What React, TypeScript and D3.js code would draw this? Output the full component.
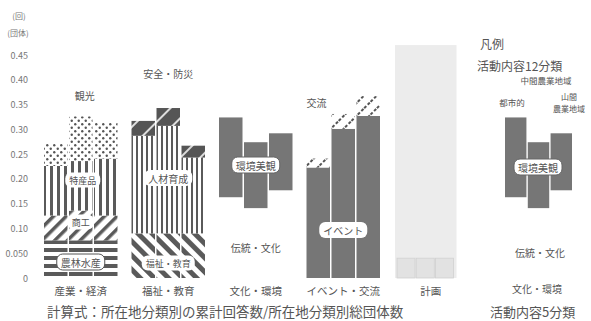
import React from "react";
import * as d3 from "d3";

// ---- data ----
const areas = ["都市的地域", "中間農業地域", "山間農業地域"];
const groups5 = ["産業・経済", "福祉・教育", "文化・環境", "イベント・交流", "計画"];
const cat12 = ["農林水産", "商工", "特産品", "観光", "福祉・教育", "人材育成", "安全・防災", "伝統・文化", "環境美観", "イベント", "交流", "計画"];
const cat12Group = [0, 0, 0, 0, 1, 1, 1, 2, 2, 3, 3, 4];
const urbanValues = [0.076, 0.05, 0.1, 0.046, 0.09, 0.197, 0.03, 0.163, 0.161, 0.223, 0.018, 0.04];
const intermediateValues = [0.076, 0.06, 0.1, 0.09, 0.09, 0.217, 0.036, 0.141, 0.133, 0.301, 0.03, 0.04];
const mountainValues = [0.076, 0.05, 0.115, 0.072, 0.09, 0.153, 0.024, 0.177, 0.115, 0.327, 0.04, 0.04];
const planShadeValue = 0.47;
const yTickValues = [0, 0.05, 0.1, 0.15, 0.2, 0.25, 0.3, 0.35, 0.4, 0.45];
const yTickLabels = ["0", "0.050", "0.10", "0.15", "0.20", "0.25", "0.30", "0.35", "0.40", "0.45"];

// ---- styles ----
const fills: Record<string, string> = {
  農林水産: "url(#pH)",
  商工: "url(#pDiagUp)",
  特産品: "url(#pV)",
  観光: "url(#pDots)",
  "福祉・教育": "url(#pDiagDown)",
  人材育成: "url(#pV2)",
  "安全・防災": "url(#pCap)",
  "伝統・文化": "#ffffff",
  環境美観: "#767676",
  イベント: "#767676",
  交流: "url(#pExch)",
  計画: "#e2e2e2",
};
const FONT = "'Noto Sans CJK JP', 'Noto Sans', sans-serif";
const TXT = "#555";

const W = 591;
const H = 321;

export default function App() {
  const y = d3.scaleLinear().domain([0, 0.45]).range([278, 55]);
  const xG = d3.scaleBand<string>().domain(groups5).range([37, 474.5]).paddingInner(0.16).paddingOuter(0.08);
  const xA = d3.scaleBand<string>().domain(areas).range([0, xG.bandwidth()]).paddingInner(0.06);
  const xPlan = d3.scaleBand<string>().domain(areas).range([3, xG.bandwidth() - 14]).paddingInner(0.06);
  const seriesByArea = [urbanValues, intermediateValues, mountainValues];

  const segs: { key: string; g: number; a: number; y0: number; y1: number }[] = [];
  groups5.forEach((_, gi) => {
    const idx = cat12.map((c, i) => i).filter((i) => cat12Group[i] === gi);
    areas.forEach((_, ai) => {
      const rows = [Object.fromEntries(idx.map((i) => [cat12[i], seriesByArea[ai][i]]))];
      const stack = d3.stack<any>().keys(idx.map((i) => cat12[i]))(rows);
      stack.forEach((s) => segs.push({ key: s.key, g: gi, a: ai, y0: s[0][0], y1: s[0][1] }));
    });
  });

  const gx = (g: number) => xG(groups5[g]) as number;
  const cx = (g: number) => gx(g) + xG.bandwidth() / 2;

  const xL = d3.scaleBand<string>().domain(areas).range([505, 572]).paddingInner(0.06);
  const legendSegs = segs.filter((s) => s.g === 2);

  const label = (text: string, x: number, yy: number, opts: any = {}) => {
    const fs = opts.fs ?? 10;
    const w = text.length * fs + 8;
    return (
      <g key={text + x + yy}>
        {opts.box && (
          <rect x={x - w / 2} y={yy - fs / 2 - 3} width={w} height={fs + 6} rx={6} fill="#fff" stroke={opts.stroke ?? "none"} strokeWidth={1} />
        )}
        <text x={x} y={yy} textAnchor="middle" dominantBaseline="central" fontSize={fs} fill={TXT} fontFamily={FONT}>
          {text}
        </text>
      </g>
    );
  };

  return (
    <svg width={W} height={H} style={{ position: "absolute", left: 0, top: 0, background: "#fff" }}>
      <defs>
        <pattern id="pH" patternUnits="userSpaceOnUse" width={8} height={8}>
          <rect width={8} height={8} fill="#fff" />
          <rect y={0} width={8} height={4} fill="#5a5a5a" />
        </pattern>
        <pattern id="pDiagUp" patternUnits="userSpaceOnUse" width={9} height={9} patternTransform="rotate(45)">
          <rect width={9} height={9} fill="#fff" />
          <rect x={0} width={3.5} height={9} fill="#5a5a5a" />
        </pattern>
        <pattern id="pV" patternUnits="userSpaceOnUse" width={7} height={7}>
          <rect width={7} height={7} fill="#fff" />
          <rect x={1} width={3} height={7} fill="#5a5a5a" />
        </pattern>
        <pattern id="pV2" patternUnits="userSpaceOnUse" width={5} height={5}>
          <rect width={5} height={5} fill="#fff" />
          <rect x={1} width={2} height={5} fill="#5a5a5a" />
        </pattern>
        <pattern id="pDots" patternUnits="userSpaceOnUse" width={7} height={7}>
          <rect width={7} height={7} fill="#fff" />
          <circle cx={1.75} cy={1.75} r={1.2} fill="#555" />
          <circle cx={5.25} cy={5.25} r={1.2} fill="#555" />
        </pattern>
        <pattern id="pDiagDown" patternUnits="userSpaceOnUse" width={10} height={10} patternTransform="rotate(-45)">
          <rect width={10} height={10} fill="#fff" />
          <rect x={0} width={5} height={10} fill="#5a5a5a" />
        </pattern>
        <pattern id="pCap" patternUnits="userSpaceOnUse" width={14} height={14} patternTransform="rotate(45)">
          <rect width={14} height={14} fill="#555" />
          <rect x={0} width={2} height={14} fill="#ddd" />
        </pattern>
        <pattern id="pExch" patternUnits="userSpaceOnUse" width={9} height={9} patternTransform="rotate(45)">
          <rect width={9} height={9} fill="#fff" />
          <line x1={1} y1={0} x2={1} y2={9} stroke="#555" strokeWidth={2} strokeDasharray="3 2" />
        </pattern>
      </defs>

      {/* y axis labels */}
      <text x={19} y={15} textAnchor="middle" dominantBaseline="central" fontSize={8} fill="#777" fontFamily={FONT}>(回)</text>
      <text x={18} y={32} textAnchor="middle" dominantBaseline="central" fontSize={8} fill="#777" fontFamily={FONT}>(団体)</text>
      {yTickValues.map((v, i) => (
        <text key={v} x={28} y={y(v)} textAnchor="end" dominantBaseline="central" fontSize={9} fill="#777" fontFamily={FONT}>
          {yTickLabels[i]}
        </text>
      ))}

      {/* 計画 shaded region */}
      <rect x={gx(4) + 1} y={y(planShadeValue)} width={xG.bandwidth() - 12} height={y(0) - y(planShadeValue)} fill="#ececec" />

      {/* bars */}
      {segs.map((s, i) => {
        const sc = s.g === 4 ? xPlan : xA;
        return (
          <rect
            key={i}
            x={gx(s.g) + (sc(areas[s.a]) as number)}
            y={y(s.y1)}
            width={sc.bandwidth()}
            height={Math.max(0, y(s.y0) - y(s.y1))}
            fill={fills[s.key]}
            stroke={s.key === "計画" ? "#d0d0d0" : "none"}
            strokeWidth={0.8}
          />
        );
      })}

      {/* in-bar labels */}
      {label("観光", cx(0) + 4, 95, { fs: 10 })}
      {label("特産品", cx(0) + 2, 180, { fs: 9, box: true })}
      {label("商工", cx(0), 222, { fs: 9, box: true })}
      {label("農林水産", cx(0), 262, { fs: 10, box: true, stroke: "#555" })}
      {label("安全・防災", cx(1), 73, { fs: 10 })}
      {label("人材育成", cx(1), 178, { fs: 10, box: true })}
      {label("福祉・教育", cx(1), 263, { fs: 9, box: true })}
      {label("環境美観", cx(2), 165, { fs: 10, box: true, stroke: "#666" })}
      {label("伝統・文化", cx(2), 247, { fs: 10 })}
      {label("交流", gx(3) + 10, 102, { fs: 10 })}
      {label("イベント", cx(3), 230, { fs: 10, box: true })}

      {/* group labels */}
      {groups5.map((g, i) => (
        <text key={g} x={cx(i)} y={290} textAnchor="middle" dominantBaseline="central" fontSize={10.5} fill={TXT} fontFamily={FONT}>
          {g}
        </text>
      ))}

      {/* formula */}
      <text x={47} y={311} dominantBaseline="central" fontSize={13.5} fill={TXT} fontFamily={FONT}>
        計算式：所在地分類別の累計回答数/所在地分類別総団体数
      </text>

      {/* legend */}
      <text x={480} y={43} dominantBaseline="central" fontSize={12} fill={TXT} fontFamily={FONT}>凡例</text>
      <text x={477} y={65} dominantBaseline="central" fontSize={12} fill={TXT} fontFamily={FONT}>活動内容12分類</text>
      <text x={546} y={80} textAnchor="middle" dominantBaseline="central" fontSize={8.5} fill={TXT} fontFamily={FONT}>中間農業地域</text>
      <text x={512} y={102} textAnchor="middle" dominantBaseline="central" fontSize={8.5} fill={TXT} fontFamily={FONT}>都市的</text>
      <text x={569} y={96} textAnchor="middle" dominantBaseline="central" fontSize={8} fill={TXT} fontFamily={FONT}>山間</text>
      <text x={569} y={108} textAnchor="middle" dominantBaseline="central" fontSize={8} fill={TXT} fontFamily={FONT}>農業地域</text>
      {legendSegs.map((s, i) => (
        <rect
          key={"l" + i}
          x={xL(areas[s.a]) as number}
          y={y(s.y1)}
          width={xL.bandwidth()}
          height={y(s.y0) - y(s.y1)}
          fill={fills[s.key]}
        />
      ))}
      {label("環境美観", 538, 167, { fs: 10, box: true, stroke: "#666" })}
      {label("伝統・文化", 540, 252, { fs: 10 })}
      {label("文化・環境", 537, 288, { fs: 10 })}
      <text x={490} y={311} dominantBaseline="central" fontSize={13} fill={TXT} fontFamily={FONT}>活動内容5分類</text>
    </svg>
  );
}
